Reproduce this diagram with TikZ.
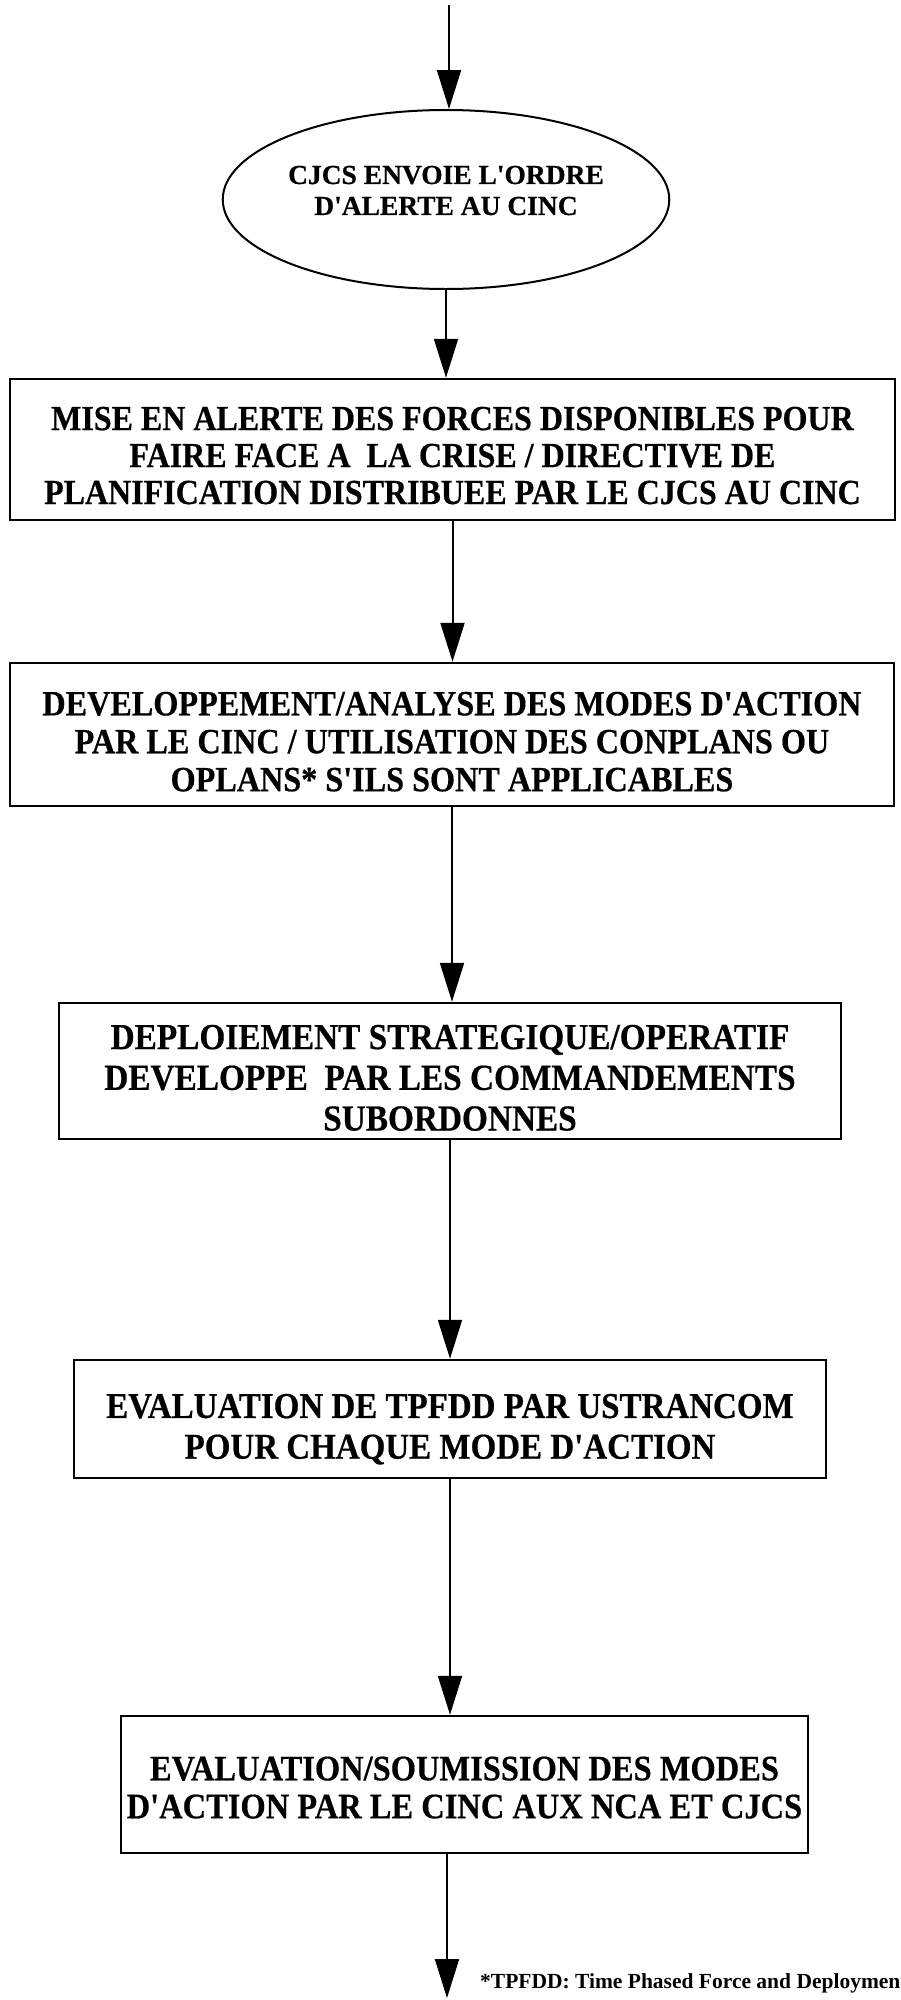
\documentclass[tikz,border=0pt]{standalone}
\usepackage{fontspec}
\usepackage{graphicx}
\setmainfont{Liberation Serif}
\newfontfamily\boxfont[UprightFont=* Bold, FakeBold=0.5]{Liberation Serif}
\usetikzlibrary{arrows.meta,shapes.geometric}
% centred block of lines, set a little taller than wide and lowered by #1
\newcommand{\lines}[2][-17pt]{\smash{\raisebox{#1}{\scalebox{1}[1.1]{\begin{tabular}{@{}c@{}}#2\end{tabular}}}}}
\begin{document}
\begin{tikzpicture}[x=1pt,y=-1pt,
  flow/.style={-{Triangle[length=39pt,width=24pt]}, line width=2pt},
  stepbox/.style 2 args={draw, line width=2.5pt, rectangle, inner sep=0pt, align=center,
    font=\boxfont\fontsize{#1}{#2}\selectfont},
  startnode/.style={draw, ellipse, line width=2pt, inner sep=0pt, align=center,
    font=\boxfont\fontsize{27.5}{31}\selectfont},
  note/.style={inner sep=0pt, anchor=base west, font=\bfseries\fontsize{21.5}{26}\selectfont}]
\useasboundingbox (0,0) rectangle (901,2000);
\clip (0,0) rectangle (901,2000);

% start of the sequence
\node[startnode, minimum width=441pt, minimum height=179pt] (alert) at (446,199.5)
  {\smash{\begin{tabular}{@{}c@{}}CJCS ENVOIE L'ORDRE\\D'ALERTE AU CINC\end{tabular}}};

% planning steps
\node[stepbox={32}{33.6}, minimum width=885pt, minimum height=141pt] (b1) at (452.5,449.5)
  {\lines{MISE EN ALERTE DES FORCES DISPONIBLES POUR\\
   FAIRE FACE A \ LA CRISE / DIRECTIVE DE\\
   PLANIFICATION DISTRIBUEE PAR LE CJCS AU CINC}};
\node[stepbox={32.2}{34.5}, minimum width=884pt, minimum height=143pt] (b2) at (452,734.5)
  {\lines[-18pt]{DEVELOPPEMENT/ANALYSE DES MODES D'ACTION\\
   PAR LE CINC / UTILISATION DES CONPLANS OU\\
   OPLANS* S'ILS SONT APPLICABLES}};
\node[stepbox={33.3}{37}, minimum width=782pt, minimum height=136pt] (b3) at (450,1071)
  {\lines[-17.5pt]{DEPLOIEMENT STRATEGIQUE/OPERATIF\\
   DEVELOPPE \ PAR LES COMMANDEMENTS\\
   SUBORDONNES}};
\node[stepbox={33}{37}, minimum width=752pt, minimum height=118pt] (b4) at (450,1419)
  {\lines[-18pt]{EVALUATION DE TPFDD PAR USTRANCOM\\
   POUR CHAQUE MODE D'ACTION}};
\node[stepbox={32.5}{34.5}, minimum width=687pt, minimum height=137pt] (b5) at (464.5,1784.5)
  {\lines[-14pt]{EVALUATION/SOUMISSION DES MODES\\
   D'ACTION PAR LE CINC AUX NCA ET CJCS}};

% footnote
\node[note] (fn) at (480,1988) {*TPFDD: Time Phased Force and Deployment Data};

% connectors
\coordinate (in) at (449,5);
\coordinate (out) at (447,1998);
\draw[flow] (in) -- (in |- alert.north);
\draw[flow] (alert.south) -- (alert.south |- b1.north);
\draw[flow] (b1.south) -- (b1.south |- b2.north);
\draw[flow] (b2.south) -- (b2.south |- b3.north);
\draw[flow] (b3.south) -- (b3.south |- b4.north);
\draw[flow] (b4.south) -- (b4.south |- b5.north);
\draw[flow] (out |- b5.south) -- (out);
\end{tikzpicture}
\end{document}
